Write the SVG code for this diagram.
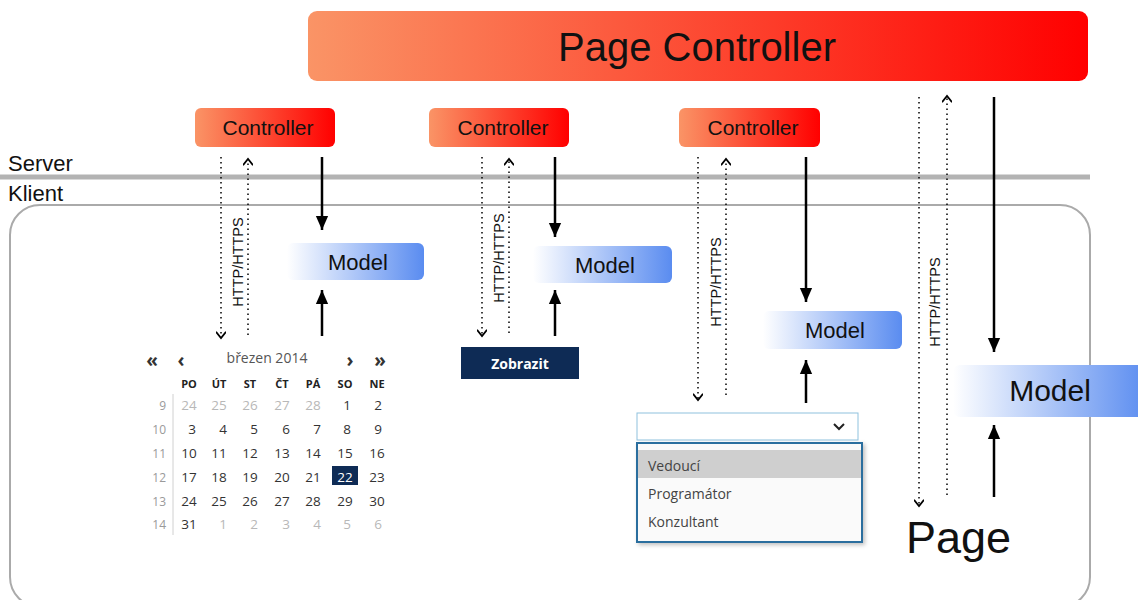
<svg xmlns="http://www.w3.org/2000/svg" width="1138" height="600" viewBox="0 0 1138 600">
  <defs>
    <linearGradient id="gradCtrl" x1="0" y1="0" x2="1" y2="0">
      <stop offset="0" stop-color="#fa9466"/>
      <stop offset="1" stop-color="#ff0000"/>
    </linearGradient>
    <linearGradient id="gradModel" x1="0" y1="0" x2="1" y2="0">
      <stop offset="0" stop-color="#ffffff"/>
      <stop offset="1" stop-color="#5a8cf0"/>
    </linearGradient>
    <filter id="shadow" x="-10%" y="-10%" width="125%" height="130%">
      <feDropShadow dx="2" dy="2" stdDeviation="2" flood-color="#000" flood-opacity="0.25"/>
    </filter>
    <marker id="solidHead" markerUnits="userSpaceOnUse" markerWidth="14" markerHeight="18" refX="16" refY="7" orient="auto" viewBox="0 0 16 14">
      <path d="M0,0 L16,7 L0,14 Z" fill="#000"/>
    </marker>
    <marker id="openHead" markerUnits="userSpaceOnUse" markerWidth="10" markerHeight="10" refX="5" refY="4" orient="auto" viewBox="0 0 6 8">
      <path d="M0,0 L5,4 L0,8" fill="none" stroke="#000" stroke-width="1.4"/>
    </marker>
    <style>
      .lbl { font-family: "Liberation Sans", Arial, sans-serif; fill: #111; }
      .ctrl-text { font-size: 21px; text-anchor: middle; }
      .model-text { font-size: 22px; text-anchor: middle; }
      .http { font-family: "Liberation Sans", Arial, sans-serif; font-size: 14.5px; fill: #111; text-anchor: middle; }
      .solid { stroke: #000; stroke-width: 2.5; fill: none; marker-end: url(#solidHead); }
      .dotted { stroke: #000; stroke-width: 1.5; stroke-dasharray: 1.5 3.5; fill: none; marker-end: url(#openHead); }
      .ui { font-family: "Open Sans", "Noto Sans", sans-serif; }
      .nav { font-size: 19px; font-weight: bold; text-anchor: middle; fill: #333; }
      .cal { font-size: 13.5px; text-anchor: middle; fill: #333; }
      .cal .dim { fill: #b8b8b8; }
      .wk { font-size: 12px; text-anchor: end; fill: #9a9a9a; }
      .hdr { font-size: 11px; font-weight: bold; text-anchor: middle; fill: #222; }
      .item { font-size: 14px; fill: #444; }
    </style>
  </defs>

  <!-- server / client boundary -->
  <g id="tiers">
    <text class="lbl" x="8" y="171" font-size="22">Server</text>
    <line x1="0" y1="177" x2="1090" y2="177" stroke="#b3b3b3" stroke-width="5"/>
    <text class="lbl" x="8" y="201" font-size="22">Klient</text>
    <rect x="10" y="205" width="1080" height="402" rx="30" ry="30" fill="none" stroke="#aaaaaa" stroke-width="2"/>
  </g>

  <!-- front controller -->
  <g id="page-controller">
    <rect x="308" y="11" width="780" height="70" rx="9" fill="url(#gradCtrl)"/>
    <text class="lbl" x="697" y="61" font-size="40" text-anchor="middle">Page Controller</text>
  </g>

  <!-- page-level controllers -->
  <g id="controller-1">
    <rect x="195" y="108" width="140" height="39" rx="6" fill="url(#gradCtrl)"/>
    <text class="lbl ctrl-text" x="268" y="135">Controller</text>
  </g>
  <g id="controller-2">
    <rect x="429" y="108" width="140" height="39" rx="6" fill="url(#gradCtrl)"/>
    <text class="lbl ctrl-text" x="503" y="135">Controller</text>
  </g>
  <g id="controller-3">
    <rect x="679" y="108" width="141" height="39" rx="6" fill="url(#gradCtrl)"/>
    <text class="lbl ctrl-text" x="753" y="135">Controller</text>
  </g>

  <!-- models -->
  <g id="model-1">
    <rect x="287" y="243" width="137" height="37" rx="6" fill="url(#gradModel)"/>
    <text class="lbl model-text" x="358" y="270">Model</text>
  </g>
  <g id="model-2">
    <rect x="533" y="246" width="139" height="37" rx="6" fill="url(#gradModel)"/>
    <text class="lbl model-text" x="605" y="273">Model</text>
  </g>
  <g id="model-3">
    <rect x="763" y="311" width="139" height="38" rx="6" fill="url(#gradModel)"/>
    <text class="lbl model-text" x="835" y="338">Model</text>
  </g>
  <g id="model-4">
    <rect x="953" y="365" width="195" height="52" rx="7" fill="url(#gradModel)"/>
    <text class="lbl" x="1050" y="401" font-size="30" text-anchor="middle">Model</text>
  </g>

  <!-- date picker -->
  <g id="calendar" class="ui">
    <text class="nav" x="152" y="367">«</text>
    <text class="nav" x="181" y="367">‹</text>
    <text x="267" y="363" font-size="14" fill="#555" text-anchor="middle">březen 2014</text>
    <text class="nav" x="350" y="367">›</text>
    <text class="nav" x="380" y="367">»</text>
    <g class="hdr">
      <text x="189" y="388">PO</text>
      <text x="219" y="388">ÚT</text>
      <text x="250" y="388">ST</text>
      <text x="282" y="388">ČT</text>
      <text x="313" y="388">PÁ</text>
      <text x="345" y="388">SO</text>
      <text x="377" y="388">NE</text>
    </g>
    <line x1="173" y1="394" x2="173" y2="535" stroke="#d0d0d0" stroke-width="1"/>
    <g class="wk">
      <text x="166" y="410">9</text>
      <text x="166" y="434">10</text>
      <text x="166" y="458">11</text>
      <text x="166" y="482">12</text>
      <text x="166" y="506">13</text>
      <text x="166" y="529">14</text>
    </g>
    <rect x="332" y="466" width="26" height="19" fill="#0e2b55"/>
    <g class="cal">
      <text x="189" y="410" class="dim">24</text><text x="219" y="410" class="dim">25</text><text x="250" y="410" class="dim">26</text><text x="282" y="410" class="dim">27</text><text x="313" y="410" class="dim">28</text><text x="347" y="410">1</text><text x="378" y="410">2</text>
      <text x="192" y="434">3</text><text x="223" y="434">4</text><text x="254" y="434">5</text><text x="286" y="434">6</text><text x="317" y="434">7</text><text x="347" y="434">8</text><text x="378" y="434">9</text>
      <text x="189" y="458">10</text><text x="219" y="458">11</text><text x="250" y="458">12</text><text x="282" y="458">13</text><text x="313" y="458">14</text><text x="345" y="458">15</text><text x="377" y="458">16</text>
      <text x="189" y="482">17</text><text x="219" y="482">18</text><text x="250" y="482">19</text><text x="282" y="482">20</text><text x="313" y="482">21</text><text x="345" y="482" fill="#ffffff">22</text><text x="377" y="482">23</text>
      <text x="189" y="506">24</text><text x="219" y="506">25</text><text x="250" y="506">26</text><text x="282" y="506">27</text><text x="313" y="506">28</text><text x="345" y="506">29</text><text x="377" y="506">30</text>
      <text x="189" y="529">31</text><text x="223" y="529" class="dim">1</text><text x="254" y="529" class="dim">2</text><text x="286" y="529" class="dim">3</text><text x="317" y="529" class="dim">4</text><text x="347" y="529" class="dim">5</text><text x="378" y="529" class="dim">6</text>
    </g>
  </g>

  <!-- submit button -->
  <g id="button">
    <rect x="461" y="347" width="118" height="32" fill="#0e2b55"/>
    <text class="ui" x="520" y="369" font-size="14" font-weight="bold" fill="#ffffff" text-anchor="middle">Zobrazit</text>
  </g>

  <!-- select box with open list -->
  <g id="dropdown" class="ui">
    <rect x="637" y="413" width="221" height="27" fill="#ffffff" stroke="#8fc2de" stroke-width="1"/>
    <path d="M834,424 L839,429 L844,424" fill="none" stroke="#222" stroke-width="2"/>
    <rect x="637" y="443" width="225" height="99" fill="#fafafa" stroke="#2a6e9e" stroke-width="2" filter="url(#shadow)"/>
    <rect x="638" y="450" width="223" height="28" fill="#cfcfcf"/>
    <text class="item" x="648" y="471">Vedoucí</text>
    <text class="item" x="648" y="499">Programátor</text>
    <text class="item" x="648" y="527">Konzultant</text>
  </g>

  <!-- page view -->
  <g id="page">
    <text class="lbl" x="906" y="553" font-size="45">Page</text>
  </g>

  <!-- connectors -->
  <g id="connectors">
    <!-- column 1 -->
    <line class="dotted" x1="221" y1="157" x2="221" y2="338"/>
    <line class="dotted" x1="248" y1="335" x2="248" y2="159"/>
    <text class="http" transform="translate(243,262) rotate(-90)">HTTP/HTTPS</text>
    <line class="solid" x1="322" y1="157" x2="322" y2="230"/>
    <line class="solid" x1="322" y1="336" x2="322" y2="290"/>
    <!-- column 2 -->
    <line class="dotted" x1="482" y1="157" x2="482" y2="336"/>
    <line class="dotted" x1="509" y1="333" x2="509" y2="159"/>
    <text class="http" transform="translate(504,258) rotate(-90)">HTTP/HTTPS</text>
    <line class="solid" x1="555" y1="157" x2="555" y2="237"/>
    <line class="solid" x1="555" y1="336" x2="555" y2="290"/>
    <!-- column 3 -->
    <line class="dotted" x1="698" y1="157" x2="698" y2="400"/>
    <line class="dotted" x1="726" y1="395" x2="726" y2="159"/>
    <text class="http" transform="translate(721,282) rotate(-90)">HTTP/HTTPS</text>
    <line class="solid" x1="806" y1="157" x2="806" y2="302"/>
    <line class="solid" x1="806" y1="403" x2="806" y2="360"/>
    <!-- column 4 -->
    <line class="dotted" x1="919" y1="97" x2="919" y2="506"/>
    <line class="dotted" x1="947" y1="495" x2="947" y2="96"/>
    <text class="http" transform="translate(940,302) rotate(-90)">HTTP/HTTPS</text>
    <line class="solid" x1="994" y1="97" x2="994" y2="352"/>
    <line class="solid" x1="994" y1="497" x2="994" y2="425"/>
  </g>
</svg>
